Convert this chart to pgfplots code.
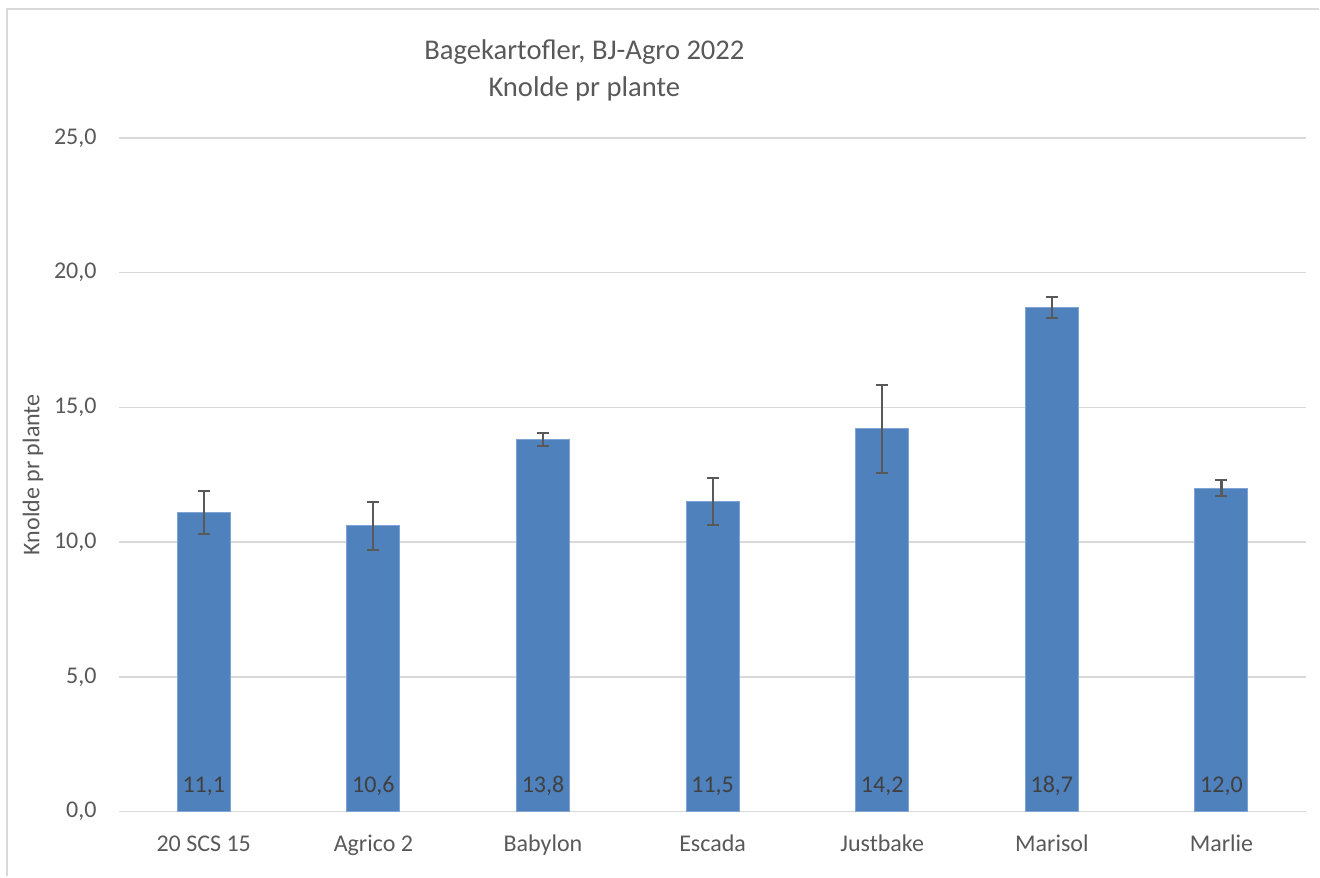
\documentclass[border=0pt]{standalone}
\usepackage{fontspec}
\setmainfont{Carlito}
\usepackage{pgfplots}
\pgfplotsset{compat=1.18}
\definecolor{barblue}{HTML}{4F81BD}
\definecolor{baredge}{HTML}{7FA3D3}
\definecolor{txtgray}{HTML}{595959}
\definecolor{lblgray}{HTML}{404040}
\definecolor{gridgray}{HTML}{D9D9D9}
\begin{document}
\begin{tikzpicture}
\begin{axis}[
    scale only axis,
    width=594bp, height=337bp,
    xmin=-0.5, xmax=6.5,
    ymin=0, ymax=25,
    xtick={0,...,6},
    xticklabels={20 SCS 15, Agrico 2, Babylon, Escada, Justbake, Marisol, Marlie},
    ytick={0,5,...,25},
    axis lines*=left,
    y axis line style={draw=none},
    x axis line style={gridgray, line width=0.75bp},
    major tick length=0pt,
    ymajorgrids,
    grid style={gridgray, line width=0.75bp},
    tick label style={font=\fontsize{12bp}{14bp}\selectfont, text=txtgray},
    yticklabel style={anchor=east, inner sep=0pt, xshift=-11bp},
    xticklabel style={anchor=base, inner sep=0pt, yshift=-20bp},
    /pgf/number format/.cd, fixed, fixed zerofill, precision=1, use comma, assume math mode=true,
    /pgfplots/.cd,
    ylabel={Knolde pr plante},
    ylabel style={at={(axis description cs:-0.0724,0.5)}, anchor=center, font=\fontsize{12bp}{14bp}\selectfont, text=txtgray},
    title={Bagekartofler, BJ-Agro 2022\\Knolde pr plante},
    title style={at={(axis description cs:0.392,1.082)}, anchor=center, align=center, font=\fontsize{14.3bp}{18.5bp}\selectfont, text=txtgray},
    clip=false
]
\addplot[ybar, bar width=26.5bp, fill=barblue, draw=baredge, line width=0.5bp,
    error bars/.cd, y dir=both, y explicit,
    error bar style={txtgray, line width=1.1bp},
    error mark options={rotate=90, mark size=3bp, line width=1.1bp, txtgray}]
coordinates {
    (0,11.1) +- (0,0.80)
    (1,10.6) +- (0,0.90)
    (2,13.8) +- (0,0.24)
    (3,11.5) +- (0,0.87)
    (4,14.2) +- (0,1.63)
    (5,18.7) +- (0,0.39)
    (6,12.0) +- (0,0.30)
};
\addplot[draw=none, mark=none, point meta=explicit,
    nodes near coords,
    nodes near coords style={anchor=base, inner sep=0pt, yshift=9.5bp, font=\fontsize{12bp}{14bp}\selectfont, text=lblgray}]
coordinates {
    (0,0) [11.1]
    (1,0) [10.6]
    (2,0) [13.8]
    (3,0) [11.5]
    (4,0) [14.2]
    (5,0) [18.7]
    (6,0) [12.0]
};
\end{axis}
\draw[gridgray, line width=0.75bp] (-56bp,-32.5bp) -- (-56bp,401.5bp) -- (600.5bp,401.5bp);
\path[use as bounding box] (-59.5bp,-32.5bp) rectangle (600.5bp,406bp);
\end{tikzpicture}
\end{document}
